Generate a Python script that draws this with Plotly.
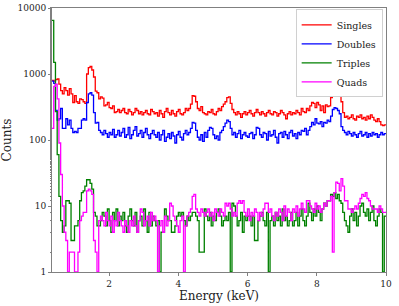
import numpy as np
import plotly.graph_objects as go

# Histogram binning (keV)
first_edge_kev = 0.35
bin_width_kev = 0.05

singles = [
    800, 780, 820, 840, 700, 560, 500, 620, 560, 480, 600, 500, 370, 470, 380, 360, 420, 410, 380, 360,
    1000, 1250, 1300, 1150, 900, 550, 520, 420, 450, 430, 330, 340, 370, 310, 300, 330, 260, 270, 290, 260,
    280, 300, 260, 250, 290, 270, 240, 260, 300, 280, 250, 270, 240, 260, 280, 250, 240, 290, 270, 250,
    260, 230, 280, 250, 220, 270, 300, 260, 240, 280, 250, 230, 270, 290, 250, 240, 260, 300, 280, 300,
    350, 470, 460, 380, 300, 280, 320, 260, 250, 240, 270, 260, 290, 250, 240, 270, 300, 280, 320, 350,
    380, 440, 450, 360, 290, 260, 240, 270, 250, 220, 250, 270, 240, 260, 280, 250, 230, 260, 290, 260,
    240, 270, 250, 230, 260, 280, 250, 240, 270, 260, 230, 250, 280, 260, 240, 210, 250, 270, 240, 260,
    250, 280, 260, 240, 300, 270, 260, 300, 280, 330, 370, 360, 310, 370, 340, 280, 330, 260, 340, 320,
    330, 440, 520, 560, 580, 550, 480, 380, 260, 220, 230, 210, 220, 240, 210, 200, 230, 220, 240, 210,
    220, 200, 230, 210, 240, 220, 200, 190, 210, 190, 170, 165, 170,
]

doubles = [
    780, 720, 280, 200, 210, 300, 150, 150, 210, 170, 200, 150, 130, 135, 130, 150, 150, 200, 210, 200,
    370, 500, 520, 480, 260, 180, 185, 140, 130, 120, 140, 125, 110, 130, 120, 145, 110, 120, 140, 115,
    130, 150, 110, 120, 155, 105, 120, 140, 160, 115, 125, 140, 110, 130, 150, 120, 105, 125, 140, 120,
    110, 130, 100, 120, 140, 95, 110, 125, 105, 130, 115, 90, 120, 135, 110, 100, 125, 140, 120, 130,
    150, 185, 180, 140, 110, 100, 120, 95, 130, 110, 140, 155, 150, 120, 105, 115, 100, 130, 140, 160,
    180, 200, 190, 150, 120, 130, 110, 125, 140, 105, 120, 130, 115, 110, 125, 130, 105, 120, 155, 150,
    120, 110, 130, 125, 100, 135, 115, 120, 140, 110, 90, 125, 130, 110, 135, 120, 105, 130, 140, 115,
    125, 105, 130, 120, 140, 135, 150, 120, 140, 160, 185, 170, 210, 180, 175, 190, 160, 185, 180, 200,
    190, 230, 290, 310, 300, 280, 250, 160, 140, 130, 120, 135, 125, 115, 130, 120, 110, 125, 135, 115,
    120, 130, 110, 125, 115, 130, 120, 125, 110, 120, 130, 120, 125,
]

triples = [
    6500, 1500, 270, 60, 14, 6, 4, 5, 12, 12, 11, 3, 3, 5, 5, 6, 12, 16, 17, 20,
    25, 25, 22, 18, 8, 7, 5, 5, 6, 8, 7, 5, 9, 6, 4, 8, 6, 9, 5, 7,
    6, 8, 5, 4, 7, 9, 6, 5, 8, 4, 6, 7, 5, 9, 6, 4, 8, 5, 7, 6,
    5, 6, 1, 4, 4, 9, 7, 6, 6, 4, 4, 5, 7, 8, 7, 8, 6, 5, 7, 6,
    7, 8, 8, 7, 6, 2, 2, 2, 9, 7, 6, 8, 5, 7, 6, 8, 9, 7, 5, 6,
    7, 6, 8, 1, 11, 10, 7, 5, 6, 8, 4, 7, 6, 7, 7, 5, 7, 3, 3, 6,
    7, 8, 6, 5, 8, 1, 6, 7, 5, 8, 6, 7, 5, 9, 6, 7, 5, 6, 8, 5,
    6, 8, 5, 7, 9, 6, 5, 7, 11, 8, 6, 9, 7, 10, 8, 6, 9, 11, 10, 12,
    12, 15, 14, 16, 13, 15, 12, 11, 8, 6, 5, 4, 7, 9, 6, 8, 5, 7, 10, 11,
    8, 7, 9, 6, 8, 10, 6, 5, 7, 9, 8, 1, 7,
]

quads = [
    150, 650, 700, 420, 90, 30, 10, 4, 3, 1, 2, 2, 2, 1, 1, 2, 6, 7, 8, 8,
    17, 18, 17, 15, 3, 2, 1, 6, 7, 6, 5, 8, 6, 5, 7, 4, 6, 5, 8, 6,
    5, 4, 6, 5, 4, 6, 5, 7, 5, 4, 6, 9, 8, 5, 6, 7, 5, 8, 6, 7,
    6, 1, 5, 6, 4, 7, 5, 6, 11, 10, 7, 6, 5, 4, 6, 7, 1, 5, 7, 8,
    9, 14, 15, 9, 8, 7, 9, 8, 7, 8, 9, 7, 8, 6, 9, 8, 7, 9, 8, 7,
    11, 10, 11, 9, 7, 8, 7, 11, 12, 11, 12, 8, 7, 9, 6, 8, 7, 9, 8, 6,
    8, 7, 9, 11, 11, 8, 9, 7, 6, 8, 7, 9, 8, 6, 10, 7, 9, 8, 6, 9,
    8, 10, 7, 9, 11, 9, 8, 12, 12, 10, 9, 8, 11, 9, 10, 8, 9, 11, 10, 12,
    12, 14, 2, 16, 23, 22, 17, 26, 20, 12, 12, 9, 9, 8, 9, 10, 9, 11, 13, 15,
    14, 16, 13, 12, 10, 9, 9, 9, 8, 10, 9, 8, 8,
]

series_names = ["Singles", "Doubles", "Triples", "Quads"]
series_values = [singles, doubles, triples, quads]
series_colors = ["#ff0000", "#0000ff", "#008000", "#ff00ff"]

x_tick_vals = [2, 4, 6, 8, 10]
y_tick_vals = [1, 10, 100, 1000, 10000]
y_tick_text = ["1", "10", "100", "1000", "10000"]

n_bins = len(singles)
edges = first_edge_kev + bin_width_kev * np.arange(n_bins + 1)

fig = go.Figure()
for name, vals, col in zip(series_names, series_values, series_colors):
    yv = list(vals) + [vals[-1]]
    fig.add_trace(go.Scatter(
        x=edges, y=yv, mode="lines", name=name,
        line=dict(color=col, width=1.3, shape="hv"),
    ))

font_family = "DejaVu Serif"
axis_col = "#808080"
fig.update_layout(
    width=399, height=306,
    margin=dict(l=52, r=13, t=8, b=34),
    paper_bgcolor="white", plot_bgcolor="white",
    font=dict(family=font_family, size=10, color="#222"),
    showlegend=True,
    legend=dict(
        x=0.99, y=0.995, xanchor="right", yanchor="top",
        bgcolor="white", bordercolor="#d0d0d0", borderwidth=1,
        font=dict(family=font_family, size=9.5, color="#222"),
        tracegroupgap=0,
    ),
)
fig.update_xaxes(
    range=[first_edge_kev, 10.0], tickvals=x_tick_vals, automargin=False,
    showline=True, linecolor=axis_col, linewidth=1, mirror=True,
    ticks="outside", ticklen=3, tickcolor=axis_col,
    showgrid=False, zeroline=False,
    title=dict(text="Energy (keV)", font=dict(family=font_family, size=12, color="#222"), standoff=0),
    tickfont=dict(size=9),
)
fig.update_yaxes(
    type="log", range=[0, 4], tickvals=y_tick_vals, ticktext=y_tick_text, automargin=False,
    showline=True, linecolor=axis_col, linewidth=1, mirror=True,
    ticks="outside", ticklen=3, tickcolor=axis_col,
    minor=dict(ticks="outside", ticklen=1.5, tickcolor=axis_col, showgrid=False),
    showgrid=False, zeroline=False,
    title=dict(text="Counts", font=dict(family=font_family, size=12, color="#222"), standoff=4),
    tickfont=dict(size=9),
)

fig.write_html(
    "out.html",
    config={"displayModeBar": False},
    post_script="document.body.style.margin='0';document.body.style.overflow='hidden';",
)
